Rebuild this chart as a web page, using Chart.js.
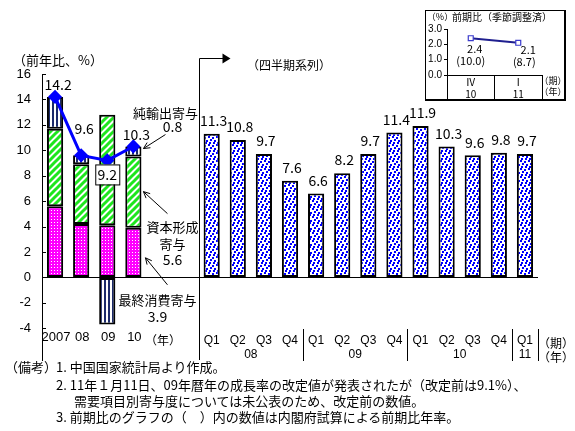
<!DOCTYPE html>
<html>
<head>
<meta charset="utf-8">
<script src="https://cdn.jsdelivr.net/npm/chart.js@4/dist/chart.umd.min.js"></script>
<style>
html, body { margin: 0; padding: 0; background: #fff; }
#wrap { position: relative; width: 575px; height: 431px; overflow: hidden; }
#mainChart { position: absolute; left: 0; top: 0; }
#insetBox { position: absolute; left: 425px; top: 10px; width: 141px; height: 91px; box-sizing: border-box;
  border: 1px solid #000; border-right-width: 2px; border-bottom-width: 2px; background: #fff; }
.note { position: absolute; font-family: 'Noto Sans CJK JP', sans-serif; font-size: 13px; line-height: 16px; white-space: nowrap; color: #000; }
</style>
</head>
<body>
<div id="wrap">
  <canvas id="mainChart" width="575" height="431"></canvas>
  <div id="insetBox"><canvas id="insetChart" width="138" height="88"></canvas></div>
  <div class="note" style="left:5px;top:359px">（備考）</div>
  <div class="note" style="left:56px;top:359px">1. 中国国家統計局より作成。</div>
  <div class="note" style="left:56px;top:377px">2. 11年１月11日、09年暦年の成長率の改定値が発表されたが（改定前は9.1%）、</div>
  <div class="note" style="left:74px;top:393px">需要項目別寄与度については未公表のため、改定前の数値。</div>
  <div class="note" style="left:56px;top:409px">3. 前期比のグラフの（　）内の数値は内閣府試算による前期比年率。</div>
</div>
<script>
// annual contributions (left panel)
const annualYears = ['2007', '08', '09', '10'];
const consumption = [5.6, 4.2, 4.1, 3.9];
const capitalFormation = [6.1, 4.7, 8.7, 5.6];
const netExports = [2.5, 0.7, -3.7, 0.8];
const annualGrowth = [14.2, 9.6, 9.2, 10.3];

// quarterly series (right panel)
const quarterLabels = ['Q1', 'Q2', 'Q3', 'Q4', 'Q1', 'Q2', 'Q3', 'Q4', 'Q1', 'Q2', 'Q3', 'Q4', 'Q1'];
const quarterYears = ['08', '09', '10', '11'];
const quarterlyGrowth = [11.3, 10.8, 9.7, 7.6, 6.6, 8.2, 9.7, 11.4, 11.9, 10.3, 9.6, 9.8, 9.7];

const yTicks = [16, 14, 12, 10, 8, 6, 4, 2, 0, -2, -4];

// inset: q/q seasonally adjusted
const insetPeriods = ['Ⅳ', 'Ⅰ'];
const insetYears = ['10', '11'];
const insetQoq = [2.4, 2.1];
const insetAnnualized = [10.0, 8.7];
const insetTicks = [0, 1, 2, 3];

const JP = "'Noto Sans CJK JP', sans-serif";
const NUM = "'Liberation Sans Narrow', 'Liberation Sans', sans-serif";

// slot layout: 4 annual bars, 2 empty slots, 13 quarterly bars
const gapSlots = 2;
const nQ = quarterlyGrowth.length;
const blank = n => Array(n).fill(null);
const labels = annualYears.concat(Array(gapSlots).fill(''), quarterLabels);
const annualPart = arr => arr.concat(blank(gapSlots + nQ));
const quarterPart = blank(annualYears.length + gapSlots).concat(quarterlyGrowth);

// fill patterns
function makePattern(w, h, draw) {
    const c = document.createElement('canvas');
    c.width = w; c.height = h;
    const g = c.getContext('2d');
    g.fillStyle = '#fff';
    g.fillRect(0, 0, w, h);
    draw(g);
    return document.getElementById('mainChart').getContext('2d').createPattern(c, 'repeat');
}
const pinkPattern = makePattern(3, 3, g => {
    g.fillStyle = '#ff00ff';
    g.fillRect(0, 0, 3, 3);
    g.fillStyle = '#ffffff';
    g.fillRect(0, 0, 1, 1);
});
const greenPattern = makePattern(7, 7, g => {
    g.strokeStyle = '#1ee61e';
    g.lineWidth = 3;
    g.beginPath();
    g.moveTo(-2, 9); g.lineTo(9, -2);
    g.moveTo(-9, 9); g.lineTo(2, -2);
    g.moveTo(5, 9); g.lineTo(16, -2);
    g.stroke();
});
const navyPattern = makePattern(4, 1, g => {
    g.fillStyle = '#1c2a6b';
    g.fillRect(0, 0, 2, 1);
});
const dotPattern = makePattern(8, 8, g => {
    g.fillStyle = '#0000ff';
    [[0, 0], [4, 1], [2, 3], [6, 4], [1, 6], [5, 6]].forEach(p => g.fillRect(p[0], p[1], 2, 2));
});

function text(ctx, str, px, py, font, align) {
    ctx.font = font;
    ctx.textAlign = align || 'center';
    ctx.textBaseline = 'middle';
    ctx.fillStyle = '#000';
    ctx.fillText(str, px, py);
}

function arrow(ctx, x1, y1, x2, y2) {
    const a = Math.atan2(y2 - y1, x2 - x1);
    const L = 7;
    ctx.strokeStyle = '#000';
    ctx.lineWidth = 1;
    ctx.beginPath();
    ctx.moveTo(x1, y1); ctx.lineTo(x2, y2);
    ctx.moveTo(x2 - L * Math.cos(a - 0.45), y2 - L * Math.sin(a - 0.45));
    ctx.lineTo(x2, y2);
    ctx.lineTo(x2 - L * Math.cos(a + 0.45), y2 - L * Math.sin(a + 0.45));
    ctx.stroke();
}

const mainDecor = {
    id: 'mainDecor',
    afterDatasetsDraw(chart) {
        const { ctx, chartArea } = chart;
        const x = chart.scales.x, y = chart.scales.y;
        ctx.save();

        // inward ticks on the left axis
        ctx.strokeStyle = '#000';
        ctx.lineWidth = 1;
        yTicks.forEach(v => {
            const py = Math.round(y.getPixelForValue(v)) + 0.5;
            ctx.beginPath(); ctx.moveTo(chartArea.left, py); ctx.lineTo(chartArea.left + 4, py); ctx.stroke();
        });

        // annual total labels
        const line = chart.getDatasetMeta(3).data;
        const totalDy = [-12, -27, null, -12];
        annualGrowth.forEach((v, i) => {
            const p = line[i];
            if (totalDy[i] === null) {
                const bx = p.x, by = p.y + 14;
                ctx.fillStyle = '#fff';
                ctx.fillRect(bx - 12, by - 10, 24, 20);
                ctx.strokeStyle = '#000';
                ctx.lineWidth = 1;
                ctx.strokeRect(bx - 12 + 0.5, by - 10 + 0.5, 24, 20);
                text(ctx, v.toFixed(1), bx, by, '14px ' + JP);
            } else {
                text(ctx, v.toFixed(1), p.x + 3, p.y + totalDy[i], '14px ' + JP);
            }
        });

        // quarterly labels
        const qbars = chart.getDatasetMeta(4).data;
        quarterlyGrowth.forEach((v, i) => {
            const b = qbars[annualYears.length + gapSlots + i];
            text(ctx, v.toFixed(1), b.x + 2, b.y - 13, '14px ' + JP);
        });

        // contribution annotations on the last annual bar
        const k = annualYears.length - 1;
        const net = chart.getDatasetMeta(2).data[k];
        const cap = chart.getDatasetMeta(1).data[k];
        const con = chart.getDatasetMeta(0).data[k];
        const right = net.x + net.width / 2;
        const netMid = (net.y + net.base) / 2;
        text(ctx, '純輸出寄与', right + 24, netMid - 38, '13px ' + JP);
        text(ctx, netExports[k].toFixed(1), right + 31, netMid - 25, '14px ' + JP);
        arrow(ctx, right + 24, netMid - 17, right + 2, netMid - 3);

        const capT = cap.y + 35;
        arrow(ctx, right + 26, capT + 22, right + 2, capT);
        text(ctx, '資本形成', right + 31, capT + 35, '13px ' + JP);
        text(ctx, '寄与', right + 31, capT + 52, '13px ' + JP);
        text(ctx, capitalFormation[k].toFixed(1), right + 31, capT + 68, '14px ' + JP);

        const conT = con.y + 30;
        arrow(ctx, right + 26, conT + 27, right + 4, conT);
        text(ctx, '最終消費寄与', right + 16, conT + 42, '13px ' + JP);
        text(ctx, consumption[k].toFixed(1), right + 16, conT + 59, '14px ' + JP);

        // axis titles
        text(ctx, '（前年比、%）', 58, 60, '13px ' + JP);
        text(ctx, '（四半期系列）', 289, 65, '12px ' + JP);

        // separator with arrow into quarterly panel
        const sepX = Math.round((x.getPixelForValue(annualYears.length + gapSlots - 1) + x.getPixelForValue(annualYears.length + gapSlots)) / 2) + 0.5;
        ctx.strokeStyle = '#000';
        ctx.lineWidth = 1;
        ctx.beginPath();
        ctx.moveTo(sepX, chartArea.bottom);
        ctx.lineTo(sepX, 58.5);
        ctx.lineTo(sepX + 24, 58.5);
        ctx.stroke();
        ctx.fillStyle = '#000';
        ctx.beginPath();
        ctx.moveTo(sepX + 23, 53.5); ctx.lineTo(sepX + 31, 58.5); ctx.lineTo(sepX + 23, 63.5);
        ctx.closePath(); ctx.fill();

        // annual category labels
        annualYears.forEach((lab, i) => {
            text(ctx, lab, x.getPixelForValue(i) + 1, 337, '13px ' + NUM);
        });
        text(ctx, '（年）', 163, 340, '12px ' + JP);

        // quarterly category labels
        const q0 = annualYears.length + gapSlots;
        quarterLabels.forEach((lab, i) => {
            text(ctx, lab, x.getPixelForValue(q0 + i), 341, '12px ' + NUM);
        });
        quarterYears.forEach((yr, j) => {
            const first = q0 + j * 4;
            const last = Math.min(first + 3, q0 + nQ - 1);
            const cx = (x.getPixelForValue(first) + x.getPixelForValue(last)) / 2;
            text(ctx, yr, cx, 355, '12px ' + NUM);
            const bx = last === q0 + nQ - 1 ? chartArea.right
                : (x.getPixelForValue(last) + x.getPixelForValue(last + 1)) / 2;
            const lx = Math.round(bx) + 0.5;
            ctx.strokeStyle = '#000';
            ctx.beginPath(); ctx.moveTo(lx, 329); ctx.lineTo(lx, 361); ctx.stroke();
        });
        text(ctx, '（期）', 556, 343, '12px ' + JP);
        text(ctx, '（年）', 556, 357, '12px ' + JP);

        ctx.restore();
    }
};

const barBase = { borderColor: '#000', borderWidth: 2, borderSkipped: false, stack: 'bars', order: 1,
    barPercentage: 0.62, categoryPercentage: 1 };

new Chart(document.getElementById('mainChart'), {
    type: 'bar',
    data: {
        labels: labels,
        datasets: [
            Object.assign({ label: '最終消費寄与', data: annualPart(consumption), backgroundColor: pinkPattern }, barBase),
            Object.assign({ label: '資本形成寄与', data: annualPart(capitalFormation), backgroundColor: greenPattern }, barBase),
            Object.assign({ label: '純輸出寄与', data: annualPart(netExports), backgroundColor: navyPattern }, barBase),
            {
                type: 'line', label: '前年比', data: annualPart(annualGrowth), stack: 'line', order: 0,
                borderColor: '#0000ff', borderWidth: 3, tension: 0, spanGaps: false,
                pointStyle: 'rectRot', pointRadius: 5, pointBackgroundColor: '#0000ff', pointBorderColor: '#0000ff'
            },
            Object.assign({ label: '四半期系列', data: quarterPart, backgroundColor: dotPattern }, barBase)
        ]
    },
    options: {
        responsive: false,
        animation: false,
        layout: { padding: { left: 0, right: 37, top: 74, bottom: 71 } },
        plugins: { legend: { display: false }, tooltip: { enabled: false } },
        scales: {
            x: { stacked: true, display: false },
            y: {
                stacked: true,
                min: -6.5,
                max: 16,
                afterBuildTicks: axis => { axis.ticks = yTicks.map(v => ({ value: v })); },
                afterFit: s => { s.width = 42; },
                ticks: { color: '#000', font: { family: NUM, size: 13 }, padding: 11 },
                grid: {
                    drawTicks: false,
                    color: c => (c.tick && c.tick.value === 0 ? '#000' : 'rgba(0,0,0,0)')
                },
                border: { display: true, color: '#000', width: 1 }
            }
        }
    },
    plugins: [mainDecor]
});

const insetDecor = {
    id: 'insetDecor',
    afterDatasetsDraw(chart) {
        const { ctx, chartArea } = chart;
        const pts = chart.getDatasetMeta(0).data;
        ctx.save();
        text(ctx, '（%）', 14, 6, '9px ' + JP);
        text(ctx, '前期比（季節調整済）', 76, 6, '10px ' + JP);
        insetQoq.forEach((v, i) => {
            const p = pts[i];
            text(ctx, v.toFixed(1), p.x + 4 + i * 6, p.y + 11 - i * 4, '11px ' + JP);
            text(ctx, '(' + insetAnnualized[i].toFixed(1) + ')', p.x + i * 6, p.y + 23 - i * 4, '11px ' + JP);
        });
        const rowTop = chartArea.bottom;
        insetPeriods.forEach((lab, i) => {
            text(ctx, lab, pts[i].x, rowTop + 7, '10px ' + JP);
            text(ctx, insetYears[i], pts[i].x, rowTop + 19, '10px ' + JP);
        });
        text(ctx, '（期）', 127, rowTop + 6, '9px ' + JP);
        text(ctx, '（年）', 127, rowTop + 17, '9px ' + JP);
        ctx.restore();
    }
};

new Chart(document.getElementById('insetChart'), {
    type: 'line',
    data: {
        labels: insetPeriods,
        datasets: [{
            data: insetQoq, borderColor: '#1f1f8f', borderWidth: 2, tension: 0,
            pointStyle: 'rect', pointRadius: 3.5, pointBackgroundColor: '#fff',
            pointBorderColor: '#3a3acc', pointBorderWidth: 1.2
        }]
    },
    options: {
        responsive: false,
        animation: false,
        layout: { padding: { left: 0, right: 22, top: 18, bottom: 0 } },
        plugins: { legend: { display: false }, tooltip: { enabled: false } },
        scales: {
            x: {
                offset: true,
                ticks: { display: false },
                grid: { display: true, drawOnChartArea: false, drawTicks: true, tickLength: 24, color: '#000', offset: true },
                border: { display: true, color: '#000' },
                afterFit: s => { s.height = 24; }
            },
            y: {
                min: 0,
                max: 3,
                afterBuildTicks: axis => { axis.ticks = insetTicks.map(v => ({ value: v })); },
                afterFit: s => { s.width = 21; },
                ticks: { color: '#000', font: { family: NUM, size: 10 }, padding: 2, callback: v => v.toFixed(1) },
                grid: { drawOnChartArea: false, tickLength: 3, color: '#000' },
                border: { display: true, color: '#000' }
            }
        }
    },
    plugins: [insetDecor]
});
</script>
</body>
</html>
